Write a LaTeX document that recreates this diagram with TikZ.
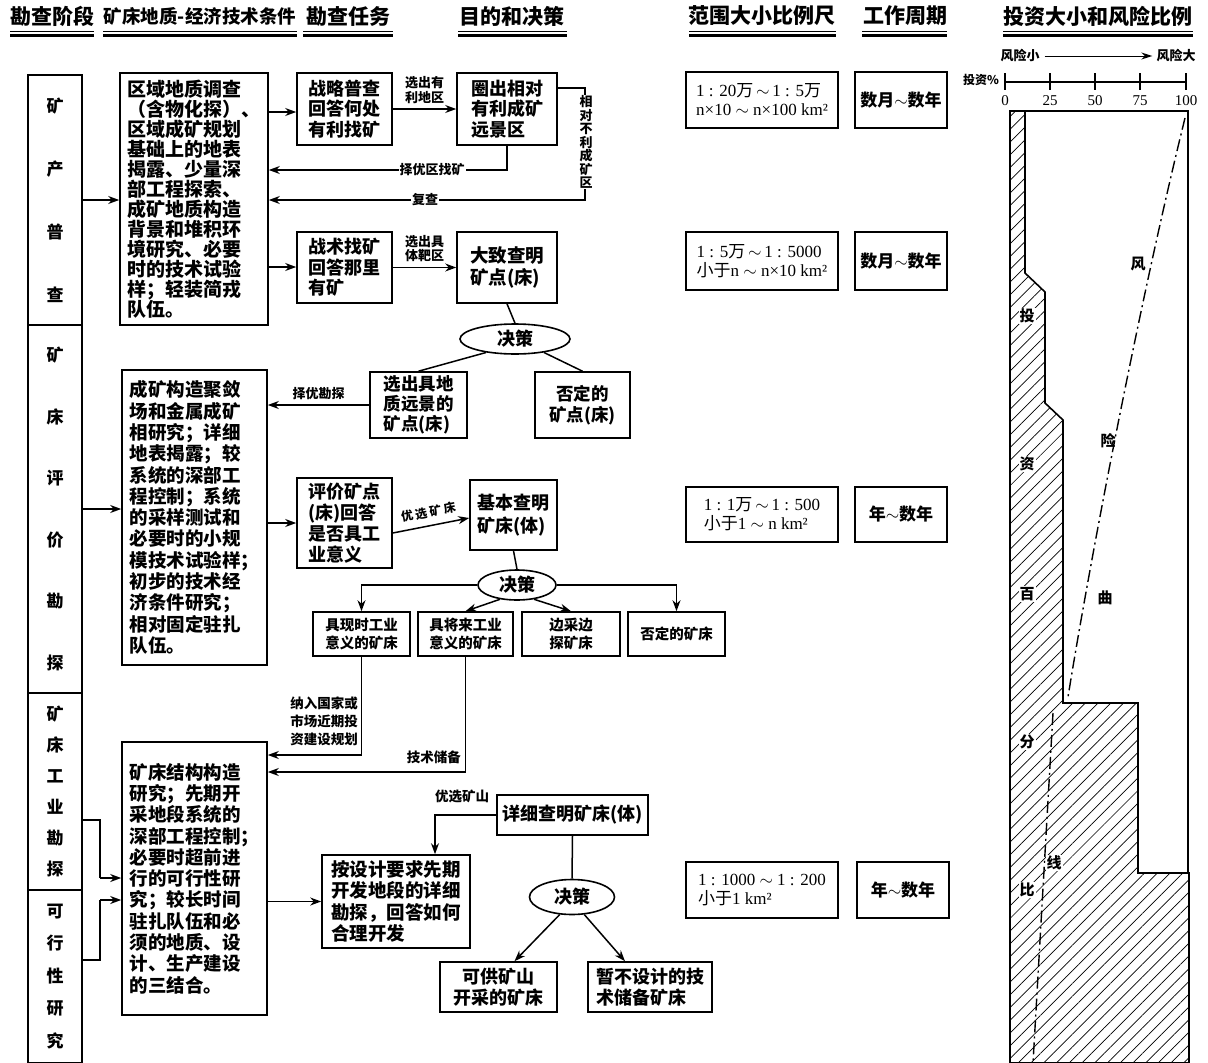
\documentclass[tikz,border=0pt]{standalone}
\usepackage{fontspec}
\setmainfont{Noto Sans CJK SC}
\newfontfamily\TNR{Liberation Serif}
\usetikzlibrary{arrows.meta,patterns.meta,shapes.geometric,calc}
\tikzset{
  bx/.style={draw, line width=1.6pt, inner sep=0pt, font=\bfseries\fontsize{18}{20.5}\selectfont, align=left},
  arr/.style={-{Stealth[length=11pt,width=8pt]}, line width=1.5pt},
  ln/.style={line width=1.5pt},
  lbl/.style={font=\bfseries\fontsize{13}{14.5}\selectfont, inner sep=1pt, align=center},
  dec/.style={draw, ellipse, line width=1.6pt, inner sep=0pt, font=\bfseries\fontsize{18}{20}\selectfont},
  hd/.style={font=\bfseries\fontsize{21}{22}\selectfont, inner sep=0pt},
  stg/.style={draw, line width=1.6pt, inner sep=0pt, minimum width=54pt, align=center},
  sc/.style={draw, line width=1.8pt, inner sep=0pt, minimum width=152pt, align=left, font=\fontsize{17}{19}\selectfont},
  per/.style={draw, line width=1.8pt, inner sep=0pt, minimum width=92pt, font=\bfseries\fontsize{17}{19}\selectfont},
  ch/.style={font=\bfseries\fontsize{15}{16}\selectfont, inner sep=1pt},
}
\begin{document}
\begin{tikzpicture}[x=1pt,y=-1pt]
\useasboundingbox[fill=white] (0,0) rectangle (1208,1063);
% headers
\node[hd] (h1) at (52,16) {勘查阶段};
\node[hd, font=\bfseries\fontsize{18.5}{20}\selectfont] (h2) at (200,16) {矿床地质-经济技术条件};
\node[hd] (h3) at (348,16) {勘查任务};
\node[hd] (h4) at (512,16) {目的和决策};
\node[hd] (h5) at (762,16) {范围大小比例尺};
\node[hd] (h6) at (905,16) {工作周期};
\node[hd] (h7) at (1098,16) {投资大小和风险比例};
\foreach \a/\b in {10/94,103/297,303/393,458/567,689/836,862/947,1003/1193}{
  \draw[line width=0.7pt] (\a,31) -- (\b,31);
  \draw[line width=2.6pt] (\a,35.5) -- (\b,35.5);}
% stage column
\node[stg, minimum height=250pt, font=\bfseries\fontsize{17}{63}\selectfont] (S1) at (55,200) {矿\\产\\普\\查};
\node[stg, minimum height=368pt, font=\bfseries\fontsize{17}{61.6}\selectfont] (S2) at (55,509) {矿\\床\\评\\价\\勘\\探};
\node[stg, minimum height=197pt, font=\bfseries\fontsize{17}{31}\selectfont] (S3) at (55,791.5) {矿\\床\\工\\业\\勘\\探};
\node[stg, minimum height=173pt, font=\bfseries\fontsize{17}{32.5}\selectfont] (S4) at (55,976.5) {可\\行\\性\\研\\究};
% big boxes
\node[bx, minimum width=148pt, minimum height=252pt, font=\bfseries\fontsize{19}{20}\selectfont] (A) at (194,199)
 {区域地质调查\\（含物化探）、\\区域成矿规划\\基础上的地表\\揭露、少量深\\部工程探索、\\成矿地质构造\\背景和堆积环\\境研究、必要\\时的技术试验\\样；轻装简戎\\队伍。};
\node[bx, minimum width=145pt, minimum height=295pt, font=\bfseries\fontsize{18.5}{21.3}\selectfont] (H) at (194.5,517.5)
 {成矿构造聚敛\\场和金属成矿\\相研究；详细\\地表揭露；较\\系统的深部工\\程控制；系统\\的采样测试和\\必要时的小规\\模技术试验样；\\初步的技术经\\济条件研究；\\相对固定驻扎\\队伍。};
\node[bx, minimum width=145pt, minimum height=273pt, font=\bfseries\fontsize{18.5}{21.3}\selectfont] (O) at (194.5,878.5)
 {矿床结构构造\\研究；先期开\\采地段系统的\\深部工程控制；\\必要时超前进\\行的可行性研\\究；较长时间\\驻扎队伍和必\\须的地质、设\\计、生产建设\\的三结合。};
% task boxes
\node[bx, minimum width=95pt, minimum height=72pt] (B) at (344.5,109) {战略普查\\回答何处\\有利找矿};
\node[bx, minimum width=100pt, minimum height=72pt] (C) at (507,109) {圈出相对\\有利成矿\\远景区};
\node[bx, minimum width=95pt, minimum height=71pt] (D) at (344.5,267.5) {战术找矿\\回答那里\\有矿\phantom{找矿}};
\node[bx, minimum width=100pt, minimum height=71pt, font=\bfseries\fontsize{18.5}{22}\selectfont] (E) at (507,267.5) {大致查明\\矿点(床)};
\node[dec, minimum width=110pt, minimum height=30pt] (E1) at (515,339) {决策};
\node[bx, minimum width=97pt, minimum height=66pt, font=\bfseries\fontsize{17.5}{20}\selectfont] (F) at (418.5,405) {选出具地\\质远景的\\矿点(床)};
\node[bx, minimum width=95pt, minimum height=66pt, font=\bfseries\fontsize{17.5}{21}\selectfont, align=center] (G) at (582.5,405) {否定的\\矿点(床)};
\node[bx, minimum width=95pt, minimum height=90pt, font=\bfseries\fontsize{18}{21}\selectfont] (I) at (344.5,523) {评价矿点\\(床)回答\\是否具工\\业意义};
\node[bx, minimum width=87pt, minimum height=70pt, font=\bfseries\fontsize{18}{23}\selectfont] (J) at (513.5,515) {基本查明\\矿床(体)};
\node[dec, minimum width=78pt, minimum height=30pt] (E2) at (517,585) {决策};
\node[bx, minimum width=97pt, minimum height=44pt, align=center, font=\bfseries\fontsize{14.5}{18}\selectfont] (K) at (361.5,634) {具现时工业\\意义的矿床};
\node[bx, minimum width=95pt, minimum height=44pt, align=center, font=\bfseries\fontsize{14.5}{18}\selectfont] (L) at (465.5,634) {具将来工业\\意义的矿床};
\node[bx, minimum width=98pt, minimum height=44pt, align=center, font=\bfseries\fontsize{14.5}{18}\selectfont] (M) at (571,634) {边采边\\探矿床};
\node[bx, minimum width=97pt, minimum height=44pt, align=center, font=\bfseries\fontsize{14.5}{18}\selectfont] (N) at (676.5,634) {否定的矿床};
\node[bx, minimum width=148pt, minimum height=93pt, font=\bfseries\fontsize{18.5}{21.5}\selectfont] (P) at (396,901.5) {按设计要求先期\\开发地段的详细\\勘探，回答如何\\合理开发};
\node[bx, minimum width=151pt, minimum height=40pt] (Q) at (572.5,815) {详细查明矿床(体)};
\node[dec, minimum width=85pt, minimum height=35pt] (E3) at (572,897) {决策};
\node[bx, minimum width=117pt, minimum height=50pt, align=center] (R) at (498.5,987) {可供矿山\\开采的矿床};
\node[bx, minimum width=124pt, minimum height=50pt] (S) at (650,987) {暂不设计的技\\术储备矿床};
% scale boxes
\node[sc, minimum height=56pt] (T1) at (762,100) {{\TNR 1 : 20}万{\TNR\,$\sim$\,1 : 5}万\\{\TNR n×10 $\sim$ n×100 km²}};
\node[sc, minimum height=58pt] (T2) at (762,261) {{\TNR 1 : 5}万{\TNR\,$\sim$\,1 : 5000}\\小于{\TNR n $\sim$ n×10 km²}};
\node[sc, minimum height=55pt] (T3) at (762,514.5) {{\TNR 1 : 1}万{\TNR\,$\sim$\,1 : 500}\\小于{\TNR 1 $\sim$ n km²}};
\node[sc, minimum height=56pt] (T4) at (762,890) {{\TNR 1 : 1000 $\sim$ 1 : 200}\\小于{\TNR 1 km²}};
\node[per, minimum height=56pt] (U1) at (901,100) {数月{\TNR$\sim$}数年};
\node[per, minimum height=58pt] (U2) at (901,261) {数月{\TNR$\sim$}数年};
\node[per, minimum height=55pt] (U3) at (901,514.5) {年{\TNR$\sim$}数年};
\node[per, minimum height=56pt] (U4) at (903,890) {年{\TNR$\sim$}数年};
% connectors stage -> boxes
\draw[arr] (S1.east |- 0,200) -- (A.west |- 0,200);
\draw[arr] (S2.east |- 0,509) -- (H.west |- 0,509);
\draw[ln] (S3.east |- 0,820) -- (100,820) -- (100,878);
\draw[arr] (100,878) -- (O.west |- 0,878);
\draw[ln] (S4.east |- 0,960) -- (100,960) -- (100,900);
\draw[arr] (100,900) -- (O.west |- 0,900);
% stage 1 flow
\draw[arr] (A.east |- 0,112) -- (B.west |- 0,112);
\draw[arr] (A.east |- 0,267) -- (D.west |- 0,267);
\draw[arr] (B.east |- 0,109) -- (C.west |- 0,109) node[lbl, midway, above=4pt] {选出有\\利地区};
\draw[arr] (D.east |- 0,267.5) -- (E.west |- 0,267.5) node[lbl, midway, above=4pt] {选出具\\体靶区};
\draw[arr] (C.east |- 0,88) -- (585,88) -- (585,200) -- (A.east |- 0,200);
\node[lbl, fill=white, font=\bfseries\fontsize{13}{13.5}\selectfont] (vl) at (586,142) {相\\对\\不\\利\\成\\矿\\区};
\node[lbl, fill=white] (fc) at (425,200) {复查};
\draw[arr] (C.south) -- (C.south |- 0,170) -- (A.east |- 0,170);
\node[lbl, fill=white] (zy) at (432,170) {择优区找矿};
\draw[ln] (E.south) -- (E1.north);
\draw[ln] (E1.205) -- (F.north);
\draw[ln] (E1.-25) -- (G.north);
\draw[arr] (F.west) -- (F.west -| H.east) node[lbl, midway, above=3pt] {择优勘探};
% stage 2 flow
\draw[arr] (H.east |- I.west) -- (I.west);
\draw[arr] ([yshift=-10pt]I.east) -- ([yshift=-3pt]J.west) node[lbl, midway, above=6pt, sloped, font=\bfseries\fontsize{12}{13}\selectfont] {优\hspace{2.5pt}选\hspace{2.5pt}矿\hspace{2.5pt}床};
\draw[ln] (J.south) -- (E2.north);
\draw[arr] (E2.west) -- (K.north |- E2.west) -- (K.north);
\draw[arr] (E2.east) -- (N.north |- E2.east) -- (N.north);
\draw[arr] (E2.220) -- (L.north);
\draw[arr] (E2.-40) -- (M.north);
\draw[arr] (K.south) -- (K.south |- 0,755) -- (O.east |- 0,755);
\draw[arr] (L.south) -- (L.south |- 0,772) -- (O.east |- 0,772);
\node[lbl, anchor=east, font=\bfseries\fontsize{13.5}{18}\selectfont, align=left] (nr) at (359,721) {纳入国家或\\市场近期投\\资建设规划};
\node[lbl, anchor=east, font=\bfseries\fontsize{13.5}{15}\selectfont] (js) at (462,757) {技术储备};
% stage 3 flow
\draw[arr] (O.east |- P.west) -- (P.west);
\draw[arr] (Q.west) -- (435,815) -- (P.north -| 435,0);
\node[lbl, font=\bfseries\fontsize{13.5}{15}\selectfont] (yx) at (462,796) {优选矿山};
\draw[ln] (Q.south) -- (E3.north);
\draw[arr] (E3.235) -- ([xshift=16pt]R.north);
\draw[arr] (E3.-55) -- ([xshift=-25pt]S.north);
% chart
\node[ch, font=\bfseries\fontsize{13}{14}\selectfont] (rs) at (1020,56) {风险小};
\node[ch, font=\bfseries\fontsize{13}{14}\selectfont] (rl) at (1176,56) {风险大};
\draw[-{Stealth[length=11pt,width=7pt]}, line width=1pt] ([xshift=4pt]rs.east) -- ([xshift=-3pt]rl.west);
\node[ch, font=\bfseries\fontsize{12}{13}\selectfont] (tz) at (981,80) {投资\%};
\draw[line width=1.6pt] (1005,82) -- (1186,82);
\foreach \x/\v in {1005/0,1050/25,1095/50,1140/75,1186/100}{
  \draw[line width=1.6pt] (\x,73) -- (\x,90);
  \node[font=\TNR\fontsize{15}{16}\selectfont, inner sep=0pt] at (\x,101) {\v};}
\draw[line width=1.6pt, pattern={Lines[angle=45,distance=9pt,line width=0.7pt]}]
  (1010,111) -- (1025,111) -- (1025,273) -- (1045,292) -- (1045,403) -- (1063,420) -- (1063,703)
  -- (1138,703) -- (1138,873) -- (1189,873) -- (1189,1063) -- (1010,1063) -- cycle;
\draw[line width=1.6pt] (1025,111) -- (1188,111) -- (1188,873);
\draw[line width=1.4pt, dash pattern=on 12pt off 4pt on 2pt off 4pt] (1185,118) .. controls (1140,300) and (1090,560) .. (1068,697);
\draw[line width=1.4pt, dash pattern=on 12pt off 4pt on 2pt off 4pt] (1053,713) -- (1033,1063);
\node[ch] (c1) at (1138,264) {风};
\node[ch] (c2) at (1108,441) {险};
\node[ch] (c3) at (1105,598) {曲};
\node[ch, fill=white] (c4) at (1054,863) {线};
\node[ch, fill=white] (p1) at (1027,316) {投};
\node[ch, fill=white] (p2) at (1027,464) {资};
\node[ch, fill=white] (p3) at (1027,594) {百};
\node[ch, fill=white] (p4) at (1027,742) {分};
\node[ch, fill=white] (p5) at (1027,890) {比};
\end{tikzpicture}
\end{document}
